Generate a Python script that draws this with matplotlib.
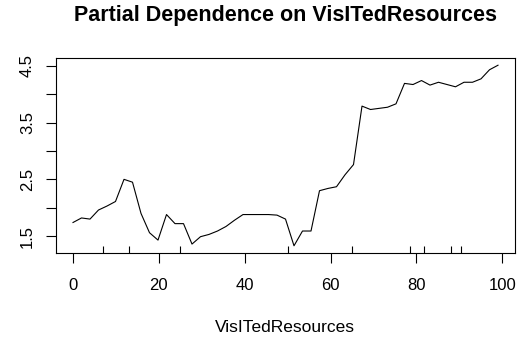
import numpy as np
import matplotlib
matplotlib.use("Agg")
import matplotlib.pyplot as plt

plt.rcParams['font.family'] = ['Liberation Sans', 'DejaVu Sans']

# grid of VisITedResources values and the partial dependence at each one
visited = [0.0, 1.98, 3.96, 5.94, 7.92, 9.9, 11.88, 13.86, 15.84, 17.82,
           19.8, 21.78, 23.76, 25.74, 27.72, 29.7, 31.68, 33.66, 35.64, 37.62,
           39.6, 41.58, 43.56, 45.54, 47.52, 49.5, 51.48, 53.46, 55.44, 57.42,
           59.4, 61.38, 63.36, 65.34, 67.32, 69.3, 71.28, 73.26, 75.24, 77.22,
           79.2, 81.18, 83.16, 85.14, 87.12, 89.1, 91.08, 93.06, 95.04, 97.02, 99.0]
pdep = [1.74, 1.82, 1.80, 1.96, 2.03, 2.11, 2.50, 2.45, 1.90, 1.56,
        1.43, 1.88, 1.72, 1.72, 1.36, 1.49, 1.53, 1.59, 1.67, 1.78,
        1.88, 1.88, 1.88, 1.88, 1.87, 1.80, 1.33, 1.59, 1.59, 2.30,
        2.34, 2.37, 2.58, 2.76, 3.79, 3.73, 3.75, 3.77, 3.83, 4.19,
        4.17, 4.24, 4.16, 4.21, 4.17, 4.13, 4.21, 4.21, 4.27, 4.43, 4.51]
# deciles of the training data (rug marks)
deciles = [7.0, 13.0, 25.0, 50.0, 65.0, 78.6, 81.7, 88.0, 90.4]

xticks = [0, 20, 40, 60, 80, 100]
yticks = [1.5, 2.0, 2.5, 3.0, 3.5, 4.0, 4.5]
ylabels = ["1.5", "", "2.5", "", "3.5", "", "4.5"]

W, H = 524, 338
fig = plt.figure(figsize=(W / 100, H / 100), dpi=100)
ax = fig.add_axes([56 / W, 1 - 253 / H, (515 - 56) / W, (253 - 58) / H])

ax.plot(visited, pdep, color="black", lw=0.8)
ax.vlines(deciles, 0, 0.036, color="black", lw=0.8, transform=ax.get_xaxis_transform())

# R-style 4% padding on both axes
xr = max(visited) - min(visited)
yr = max(pdep) - min(pdep)
ax.set_xlim(min(visited) - 0.04 * xr, max(visited) + 0.04 * xr)
ax.set_ylim(min(pdep) - 0.04 * yr, max(pdep) + 0.04 * yr)

ax.set_xticks(xticks)
ax.set_xticklabels([str(t) for t in xticks])
ax.set_yticks(yticks)
ax.set_yticklabels(ylabels, rotation=90, va="center")
ax.tick_params(axis="both", direction="out", length=7.2, width=0.8, labelsize=12, color="black")
ax.tick_params(axis="x", pad=11)
ax.tick_params(axis="y", pad=8)
for s in ax.spines.values():
    s.set_linewidth(0.8)

fig.text(285 / W, 1 - 16 / H, "Partial Dependence on VisITedResources",
         ha="center", va="center", fontsize=15.5, fontweight="bold")
fig.text(285 / W, 1 - 327 / H, "VisITedResources", ha="center", va="center", fontsize=12.5)

fig.savefig("out.png", dpi=100)
